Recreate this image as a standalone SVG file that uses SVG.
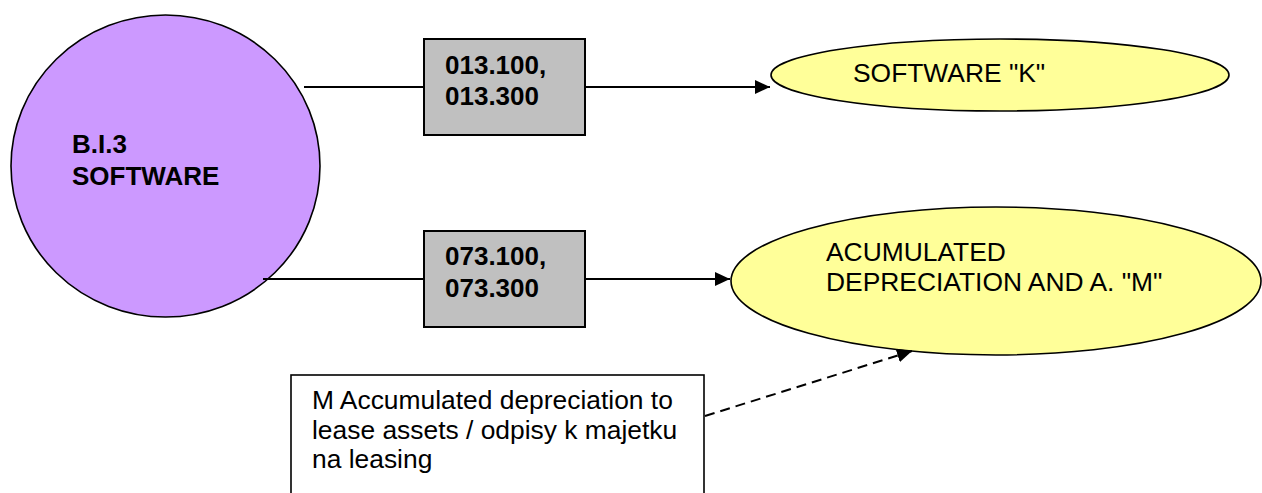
<svg xmlns="http://www.w3.org/2000/svg" width="1262" height="493" viewBox="0 0 1262 493">
  <style>
    .bold { font-family: "Liberation Sans", Arial, sans-serif; font-size: 26px; font-weight: bold; fill: #000; }
    .reg { font-family: "Liberation Sans", Arial, sans-serif; font-size: 26.4px; fill: #000; }
    .shape { stroke: #000; stroke-width: 1.6; }
    .acct { fill: #C0C0C0; stroke: #000; stroke-width: 2; }
    .link { fill: none; stroke: #000; stroke-width: 2; }
    .dash { stroke-dasharray: 10 6; }
  </style>
  <defs>
    <marker id="arrow" viewBox="0 0 15 14" refX="15" refY="7" markerWidth="15" markerHeight="14" markerUnits="userSpaceOnUse" orient="auto">
      <path d="M0,0 L15,7 L0,14 Z" fill="#000"/>
    </marker>
  </defs>

  <rect width="1262" height="493" fill="#fff"/>

  <g id="node-software">
    <ellipse class="shape" cx="165.5" cy="166" rx="154.5" ry="151" fill="#CC99FF"/>
    <text class="bold" x="72" y="153">B.I.3</text>
    <text class="bold" x="72" y="185">SOFTWARE</text>
  </g>

  <g id="node-013">
    <rect class="acct" x="424" y="39" width="161" height="96"/>
    <text class="bold" x="445" y="74">013.100,</text>
    <text class="bold" x="445" y="105">013.300</text>
  </g>

  <g id="node-073">
    <rect class="acct" x="424" y="231" width="161" height="96"/>
    <text class="bold" x="445" y="265">073.100,</text>
    <text class="bold" x="445" y="297">073.300</text>
  </g>

  <g id="node-k">
    <ellipse class="shape" cx="1000" cy="75" rx="229" ry="36" fill="#FFFF99"/>
    <text class="reg" x="853" y="82">SOFTWARE "K"</text>
  </g>

  <g id="node-m">
    <ellipse class="shape" cx="996" cy="281" rx="265" ry="74" fill="#FFFF99"/>
    <text class="reg" x="826" y="261">ACUMULATED</text>
    <text class="reg" x="826" y="291">DEPRECIATION AND A. "M"</text>
  </g>

  <g id="note-m">
    <rect x="291" y="375" width="413" height="130" fill="#fff" stroke="#000" stroke-width="1.6"/>
    <text class="reg" x="312" y="409">M Accumulated depreciation to</text>
    <text class="reg" x="312" y="438.5">lease assets / odpisy k majetku</text>
    <text class="reg" x="312" y="468">na leasing</text>
  </g>

  <g id="connectors">
    <line class="link" x1="304" y1="87" x2="424" y2="87"/>
    <line class="link" x1="585" y1="87" x2="770" y2="87" marker-end="url(#arrow)"/>
    <line class="link" x1="263" y1="279" x2="424" y2="279"/>
    <line class="link" x1="585" y1="279" x2="730" y2="279" marker-end="url(#arrow)"/>
    <line class="link dash" x1="705" y1="416" x2="912" y2="351" marker-end="url(#arrow)"/>
  </g>
</svg>
